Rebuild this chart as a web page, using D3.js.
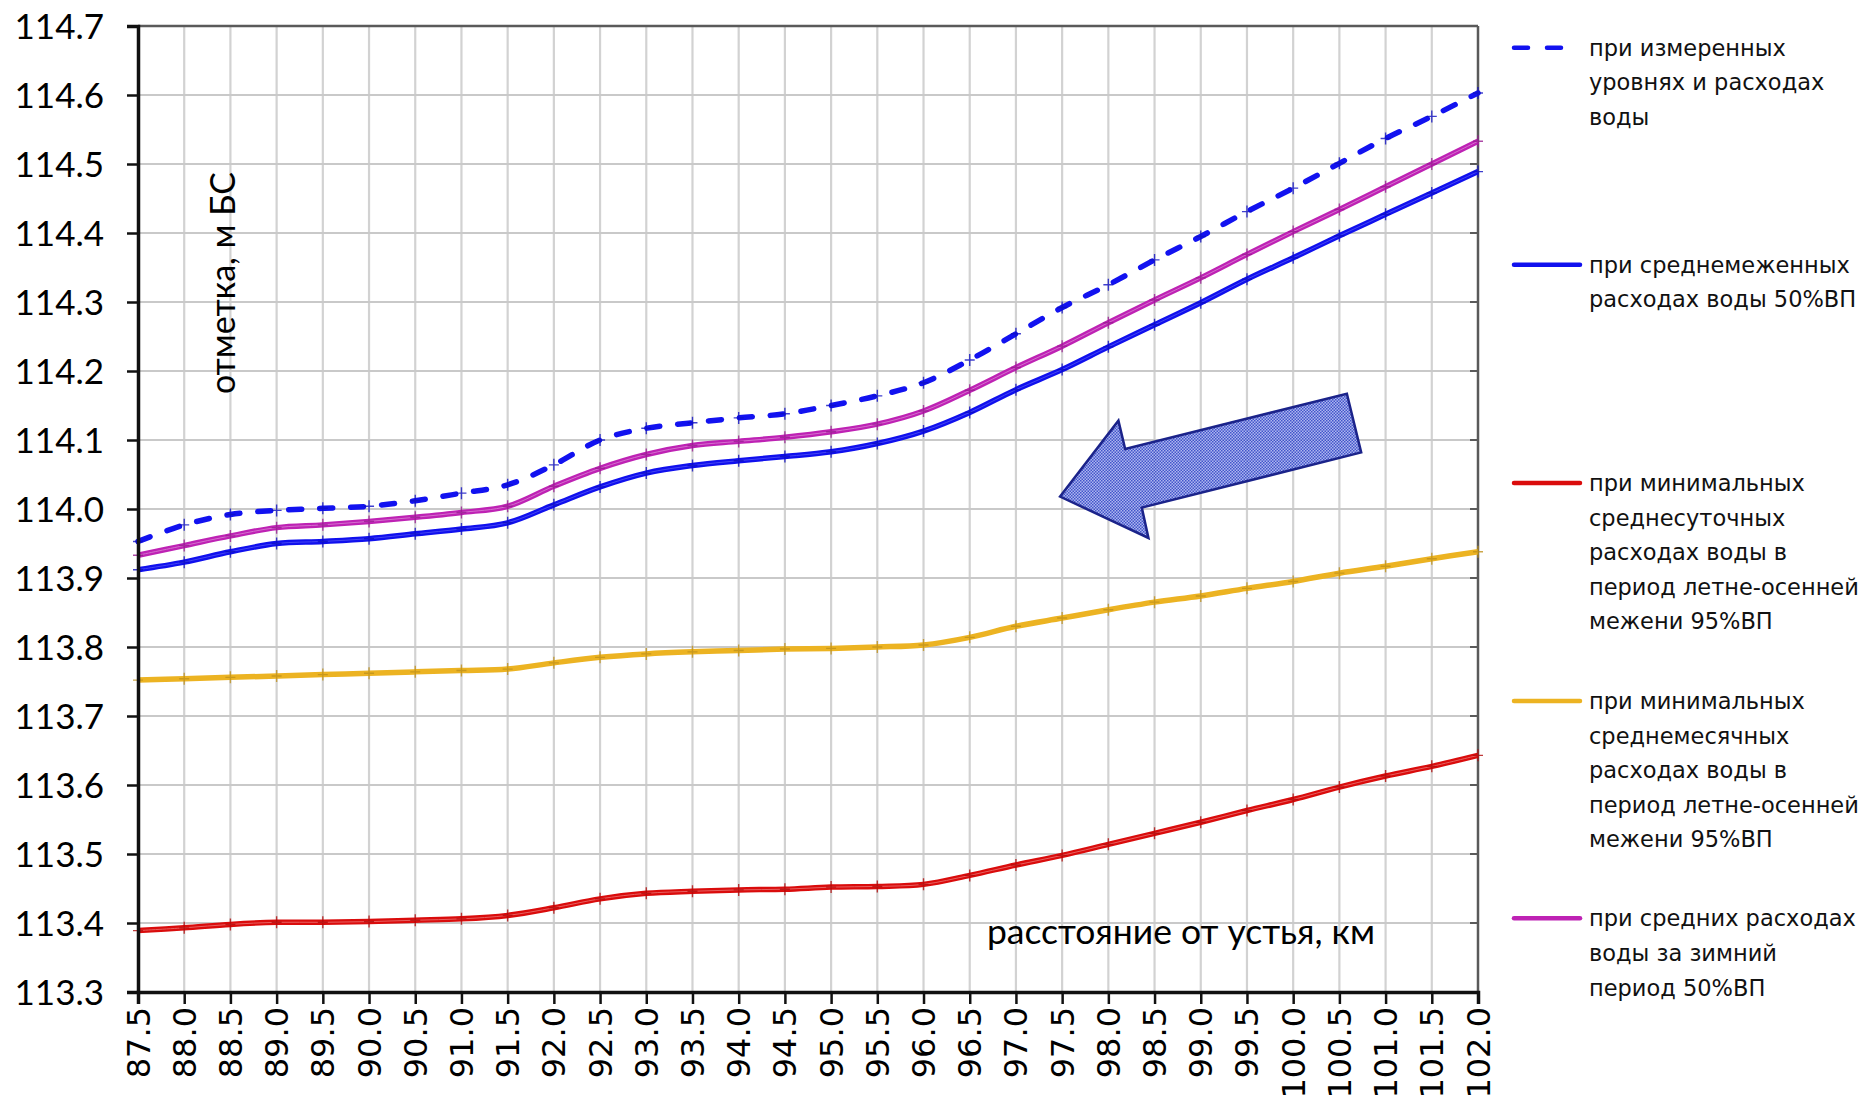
<!DOCTYPE html>
<html>
<head>
<meta charset="utf-8">
<script src="https://cdn.jsdelivr.net/npm/d3@7"></script>
<style>
  html, body { margin: 0; padding: 0; background: #fff; }
  svg { display: block; }
</style>
</head>
<body>
<svg id="chart" width="1870" height="1103"></svg>
<script>
// ---------- DATA ----------
const km = [87.5, 88.0, 88.5, 89.0, 89.5, 90.0, 90.5, 91.0, 91.5, 92.0,
            92.5, 93.0, 93.5, 94.0, 94.5, 95.0, 95.5, 96.0, 96.5, 97.0,
            97.5, 98.0, 98.5, 99.0, 99.5, 100.0, 100.5, 101.0, 101.5, 102.0];
const kmLabels = ["87.5","88.0","88.5","89.0","89.5","90.0","90.5","91.0","91.5","92.0",
                  "92.5","93.0","93.5","94.0","94.5","95.0","95.5","96.0","96.5","97.0",
                  "97.5","98.0","98.5","99.0","99.5","100.0","100.5","101.0","101.5","102.0"];
const yTicks = [113.3, 113.4, 113.5, 113.6, 113.7, 113.8, 113.9, 114.0, 114.1, 114.2, 114.3, 114.4, 114.5, 114.6, 114.7];
const yTickLabels = ["113.3","113.4","113.5","113.6","113.7","113.8","113.9","114.0","114.1","114.2","114.3","114.4","114.5","114.6","114.7"];

const measured = [113.953, 113.977, 113.992, 113.998, 114.001, 114.004, 114.012, 114.023, 114.035, 114.064,
                  114.100, 114.117, 114.125, 114.132, 114.138, 114.150, 114.164, 114.183, 114.216, 114.254,
                  114.292, 114.325, 114.361, 114.395, 114.431, 114.465, 114.501, 114.537, 114.569, 114.603];
const lowWater50 = [113.912, 113.923, 113.938, 113.950, 113.953, 113.957, 113.964, 113.971, 113.980, 114.006,
                    114.032, 114.052, 114.063, 114.070, 114.076, 114.083, 114.095, 114.113, 114.140, 114.173,
                    114.202, 114.235, 114.267, 114.299, 114.333, 114.364, 114.396, 114.427, 114.458, 114.489];
const minDaily95 = [113.389, 113.393, 113.398, 113.401, 113.401, 113.402, 113.404, 113.406, 113.411, 113.422,
                    113.435, 113.443, 113.446, 113.448, 113.449, 113.452, 113.453, 113.456, 113.469, 113.484,
                    113.498, 113.514, 113.530, 113.546, 113.563, 113.579, 113.597, 113.613, 113.627, 113.643];
const minMonthly95 = [113.752, 113.754, 113.756, 113.758, 113.760, 113.762, 113.764, 113.766, 113.768, 113.777,
                      113.785, 113.790, 113.793, 113.795, 113.797, 113.798, 113.800, 113.803, 113.814, 113.830,
                      113.842, 113.854, 113.865, 113.874, 113.885, 113.895, 113.907, 113.917, 113.928, 113.938];
const winter50 = [113.933, 113.947, 113.961, 113.973, 113.977, 113.982, 113.988, 113.995, 114.004, 114.033,
                  114.059, 114.079, 114.092, 114.098, 114.104, 114.112, 114.123, 114.142, 114.172, 114.205,
                  114.236, 114.270, 114.303, 114.335, 114.369, 114.402, 114.434, 114.467, 114.500, 114.533];

const seriesValues = [measured, lowWater50, minDaily95, minMonthly95, winter50];
const seriesColors = ["#1212F0", "#1010EE", "#DA0C0C", "#ECB322", "#BE22B4"];
const seriesLegend = [
  ["при измеренных", "уровнях и расходах", "воды"],
  ["при среднемеженных", "расходах воды 50%ВП"],
  ["при минимальных", "среднесуточных", "расходах воды в", "период летне-осенней", "межени 95%ВП"],
  ["при минимальных", "среднемесячных", "расходах воды в", "период летне-осенней", "межени 95%ВП"],
  ["при средних расходах", "воды за зимний", "период 50%ВП"]
];
const xTitle = "расстояние от устья, км";
const yTitle = "отметка, м БС";

// flow-direction arrow, in data coordinates (km, elevation)
const arrowKm = [97.478, 98.109, 98.182, 100.581, 100.736, 98.362, 98.434];
const arrowZ  = [114.018, 114.128, 114.087, 114.167, 114.082, 114.002, 113.958];

// ---------- LAYOUT ----------
const svg = d3.select("#chart");
const pL = 138, pR = 1478, pT = 26, pB = 992;

const x = d3.scaleLinear().domain([87.5, 102.0]).range([pL, pR]);
const y = d3.scaleLinear().domain([113.3, 114.7]).range([pB, pT]);

// patterns
const defs = svg.append("defs");
const pat = defs.append("pattern").attr("id", "chk").attr("patternUnits", "userSpaceOnUse")
  .attr("width", 3).attr("height", 3);
pat.append("rect").attr("width", 3).attr("height", 3).attr("fill", "#A7B1EE");
pat.append("rect").attr("x", 0).attr("y", 0).attr("width", 1.5).attr("height", 1.5).attr("fill", "#3246C6");
pat.append("rect").attr("x", 1.5).attr("y", 1.5).attr("width", 1.5).attr("height", 1.5).attr("fill", "#3246C6");

// gridlines
const grid = svg.append("g");
grid.selectAll("line.v").data(km.slice(1, -1)).enter().append("line")
  .attr("x1", d => x(d)).attr("x2", d => x(d)).attr("y1", pT).attr("y2", pB)
  .attr("stroke", "#D2D2D2").attr("stroke-width", 2.2);
grid.selectAll("line.h").data(yTicks.slice(1, -1)).enter().append("line")
  .attr("x1", pL).attr("x2", pR).attr("y1", d => y(d)).attr("y2", d => y(d))
  .attr("stroke", "#C9C9C9").attr("stroke-width", 2.2);

// frame top & right
svg.append("line").attr("x1", pL).attr("x2", pR).attr("y1", pT).attr("y2", pT)
  .attr("stroke", "#5A5A5A").attr("stroke-width", 2.5);
svg.append("line").attr("x1", pR).attr("x2", pR).attr("y1", pT).attr("y2", pB)
  .attr("stroke", "#5A5A5A").attr("stroke-width", 2.5);
svg.append("g").selectAll("line").data(yTicks).enter().append("line")
  .attr("x1", pR - 8).attr("x2", pR).attr("y1", d => y(d)).attr("y2", d => y(d))
  .attr("stroke", "#5A5A5A").attr("stroke-width", 2);

// arrow
svg.append("polygon")
  .attr("points", arrowKm.map((k, i) => [x(k), y(arrowZ[i])].join(",")).join(" "))
  .attr("fill", "url(#chk)").attr("fill-opacity", 0.92)
  .attr("stroke", "#1B238A").attr("stroke-width", 2.5).attr("stroke-linejoin", "miter");

// lines
const line = d3.line().x((d, i) => x(km[i])).y(d => y(d)).curve(d3.curveCatmullRom.alpha(0.5));
const drawOrder = [3, 2, 1, 4, 0];
const highlight = [0, 0.22, 0.35, 0, 0.35];
const lg = svg.append("g");
drawOrder.forEach(si => {
  const vals = seriesValues[si];
  const col = seriesColors[si];
  if (si === 0) {
    lg.append("path").attr("d", line(vals)).attr("fill", "none")
      .attr("stroke", col).attr("stroke-width", 5.5)
      .attr("stroke-dasharray", "13,18").attr("stroke-linecap", "round");
  } else {
    lg.append("path").attr("d", line(vals)).attr("fill", "none")
      .attr("stroke", col).attr("stroke-width", 5.5);
    if (highlight[si] > 0) {
      lg.append("path").attr("d", line(vals)).attr("fill", "none")
        .attr("stroke", d3.interpolateRgb(col, "#ffffff")(highlight[si])).attr("stroke-width", 1);
    }
  }
  lg.append("g").selectAll("path").data(vals).enter().append("path")
    .attr("d", (d, i) => `M${x(km[i])},${y(d) - 6}V${y(d) + 6}M${x(km[i]) - 5},${y(d)}H${x(km[i]) + 5}`)
    .attr("stroke", d3.color(col).darker(0.6)).attr("stroke-width", 1.4).attr("fill", "none")
    .attr("opacity", 0.8);
});

// axes
const yAxis = d3.axisLeft(y).tickValues(yTicks).tickFormat((d, i) => yTickLabels[i]).tickSize(11).tickPadding(6);
const yg = svg.append("g").attr("transform", `translate(${pL},0)`).call(yAxis);
yg.select(".domain").attr("stroke", "#111").attr("stroke-width", 3.5);
yg.selectAll(".tick line").attr("stroke", "#111").attr("stroke-width", 2.5);
yg.selectAll(".tick text").attr("font-family", "Lato, sans-serif").attr("font-size", 35)
  .attr("fill", "#000").attr("x", -34).attr("dy", "0.36em");

const xAxis = d3.axisBottom(x).tickValues(km).tickFormat((d, i) => kmLabels[i]).tickSize(12).tickPadding(0);
const xg = svg.append("g").attr("transform", `translate(0,${pB})`).call(xAxis);
xg.select(".domain").attr("stroke", "#111").attr("stroke-width", 3.5);
xg.selectAll(".tick line").attr("stroke", "#111").attr("stroke-width", 2.5);
xg.selectAll(".tick text")
  .attr("font-family", "'DejaVu Sans', sans-serif").attr("font-size", 32).attr("fill", "#000")
  .attr("text-anchor", "end").attr("dy", null).attr("y", null)
  .attr("dominant-baseline", "central")
  .attr("transform", "translate(0,15) rotate(-90)");

// titles
svg.append("text").attr("transform", `translate(${221},${283}) rotate(-90)`)
  .attr("text-anchor", "middle").attr("dominant-baseline", "central")
  .attr("font-family", "Lato, sans-serif").attr("font-size", 34).attr("fill", "#000")
  .text(yTitle);
svg.append("text").attr("x", 1181).attr("y", 930)
  .attr("text-anchor", "middle").attr("dominant-baseline", "central")
  .attr("font-family", "Lato, sans-serif").attr("font-size", 35.5).attr("fill", "#000")
  .text(xTitle);

// legend
const legTops = [47.7, 264.8, 483, 701, 918.3];
const legLine = 34.6;
const leg = svg.append("g");
seriesValues.forEach((vals, si) => {
  const g = leg.append("g");
  const ly = legTops[si];
  const ln = g.append("line").attr("x1", 1514).attr("x2", 1580).attr("y1", ly).attr("y2", ly)
    .attr("stroke", seriesColors[si]).attr("stroke-width", 4.5).attr("stroke-linecap", "round");
  if (si === 0) ln.attr("stroke-dasharray", "14,19");
  seriesLegend[si].forEach((t, j) => {
    g.append("text").attr("x", 1589).attr("y", ly + j * legLine)
      .attr("dominant-baseline", "central")
      .attr("font-family", "'DejaVu Sans', sans-serif").attr("font-size", 22.5).attr("fill", "#111")
      .text(t);
  });
});
</script>
</body>
</html>
